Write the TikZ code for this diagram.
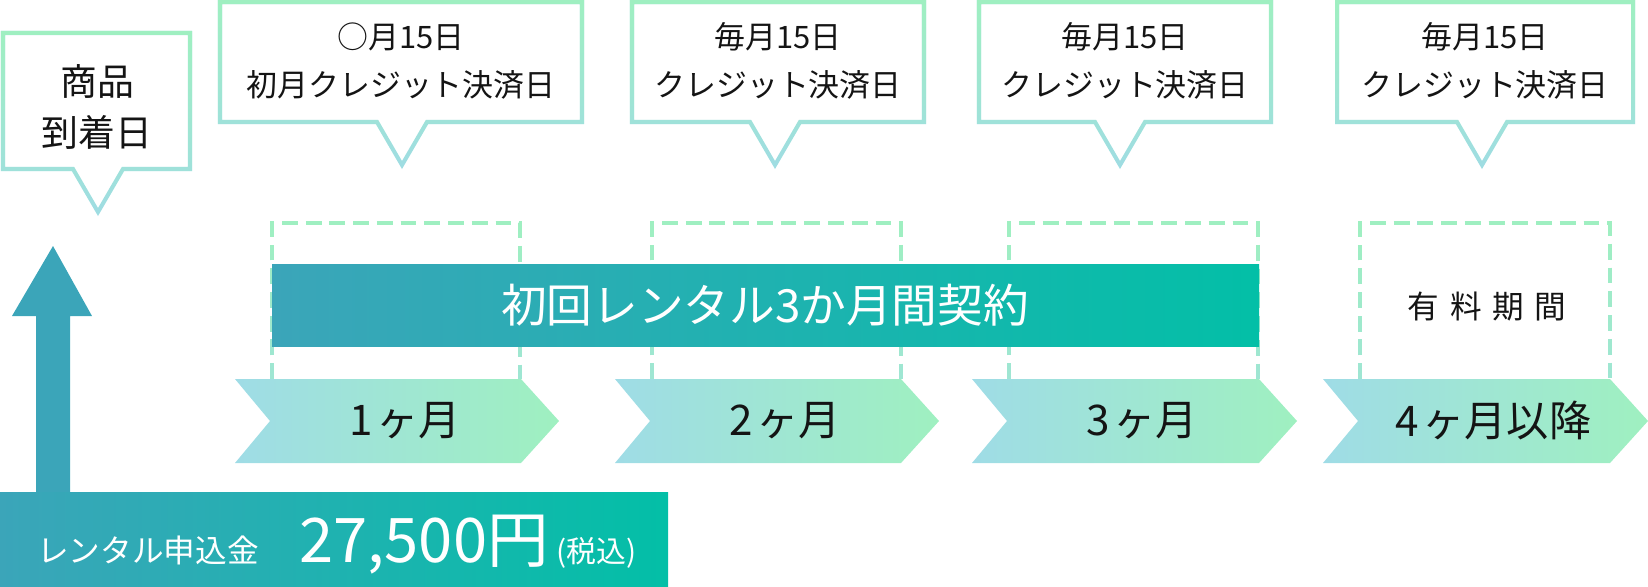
\documentclass[tikz,border=0pt]{standalone}
\usepackage{fontspec}
\setmainfont{Noto Sans CJK JP}
\usetikzlibrary{positioning,fadings}
\definecolor{mint}{RGB}{159,240,193}
\definecolor{aqua}{RGB}{159,221,227}
\definecolor{sky}{RGB}{159,220,230}
\definecolor{lime}{RGB}{159,240,192}
\definecolor{deepteal}{RGB}{59,165,185}
\definecolor{jade}{RGB}{3,191,167}
\definecolor{ink}{RGB}{20,20,20}
\tikzfading[name=fade down,top color=transparent!0,bottom color=transparent!100]
\tikzset{
  outline/.style={line width=2.3pt,line join=miter,draw=#1},
  outline/.default=aqua,
  dashbox/.style={line width=2.3pt,dash pattern=on 9pt off 4.5pt,draw=#1},
  dashbox/.default=aqua!55!mint,
  balloon/.style={font=\fontsize{17.6}{27.2}\selectfont,align=center,text=ink,inner sep=0pt},
  chevron/.style={left color=sky,right color=lime},
  band/.style={left color=deepteal,right color=jade},
  month/.style={font=\fontsize{24}{27}\selectfont,text=ink,inner sep=0pt},
  white text/.style={text=white,inner sep=0pt,font=\fontsize{#1}{#1}\selectfont},
}
\begin{document}
\begin{tikzpicture}[x=0.02cm,y=-0.02cm]
\useasboundingbox (0,0) rectangle (1648,586);
% balloons
\foreach \l/\r/\t/\b/\tx in {3/190/33/169/98,220/582/2/122/402,632/924/2/122/775,979/1271/2/122/1120,1337/1633/2/122/1482}{
  \draw[outline] (\l,\t) -- (\r,\t) -- (\r,\b) -- (\tx+25,\b) -- (\tx,\b+43) -- (\tx-25,\b) -- (\l,\b) -- cycle;
  \draw[outline=mint,path fading=fade down] (\l,\t) -- (\r,\t) -- (\r,\b) -- (\tx+25,\b) -- (\tx,\b+43) -- (\tx-25,\b) -- (\l,\b) -- cycle;
}
\node[balloon,font=\fontsize{21}{29.5}\selectfont] (arrival) at (97,107) {商品\\到着日};
\node[balloon] (pay1) at (401,61) {○月15日\\初月クレジット決済日};
\foreach \x [count=\i from 2] in {778,1125,1485}
  \node[balloon] (pay\i) at (\x,61) {毎月15日\\クレジット決済日};

% dashed frames
\foreach \l/\r in {272/520,652/901,1009/1258,1360/1610}{
  \draw[dashbox] (\l,379) -- (\l,223) -- (\r,223) -- (\r,379);
  \draw[dashbox=mint,path fading=fade down] (\l,379) -- (\l,223) -- (\r,223) -- (\r,379);
}
\shade[band] (272,264) rectangle (1259,346);
\node[white text=26] (contract) at (765,305) {初回レンタル3か月間契約};
\node[month,font=\fontsize{18}{20}\selectfont] (paid) at (1487,307) {有\kern6pt料\kern6pt期\kern6pt間};

% months
\foreach \L/\R/\txt [count=\i] in {235/521/1\kern2ptヶ月,615/901/2\kern2ptヶ月,972/1259/3\kern2ptヶ月,1323/1610/4\kern2ptヶ月以降}{
  \shade[chevron] (\L,379) -- (\R,379) -- (\R+38,421) -- (\R,463) -- (\L,463) -- (\L+35,421) -- cycle;
  \node[month] (month\i) at ({(\L+\R+38)/2+8},421) {\txt};
}

% fee
\fill[deepteal] (36,492) -- (36,316) -- (12,316) -- (53,246) -- (92,316) -- (70,316) -- (70,492) -- cycle;
\shade[band] (0,492) rectangle (668,586);
\node[white text=18,anchor=base west] (fee) at (37,562) {レンタル申込金};
\node[white text=35,base right=0.8cm of fee] (amount) {27,500円};
\node[white text=17,base right=0.15cm of amount] (tax) {(税込)};
\end{tikzpicture}
\end{document}
